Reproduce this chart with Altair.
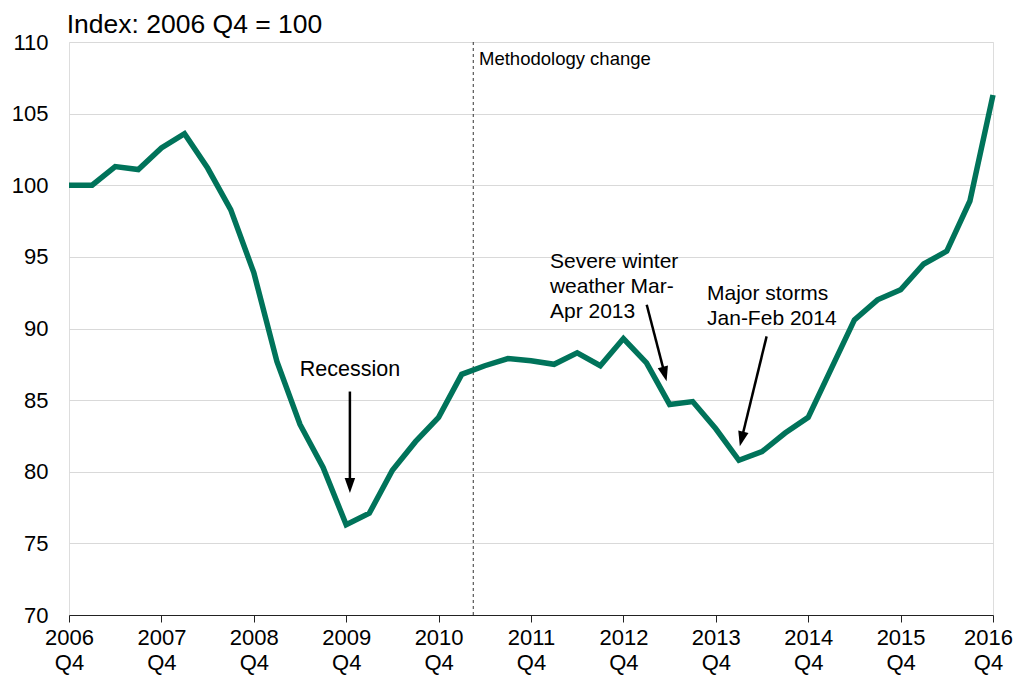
import altair as alt
import pandas as pd
import numpy as np

FONT = "Liberation Sans"

# ---- data ----
quarters = list(range(41))  # 0 = 2006 Q4 ... 40 = 2016 Q4
index_values = [100.0, 100.0, 101.3, 101.1, 102.6, 103.6, 101.2, 98.3, 93.9, 87.7,
                83.3, 80.3, 76.3, 77.1, 80.1, 82.1, 83.8, 86.8, 87.4, 87.9,
                87.75, 87.5, 88.3, 87.4, 89.3, 87.6, 84.7, 84.9, 83.0, 80.8,
                81.4, 82.7, 83.8, 87.2, 90.6, 92.0, 92.7, 94.5, 95.4, 98.9, 106.3]
x_tick_values = list(range(0, 41, 4))
y_tick_values = [70, 75, 80, 85, 90, 95, 100, 105, 110]
method_change_q = 17.5

title_text = "Index: 2006 Q4 = 100"
method_text = "Methodology change"

left_notes = ["Severe winter\nweather Mar-\nApr 2013", "Major storms\nJan-Feb 2014"]
left_notes_x = [20.82, 27.62]
left_notes_y = [94.22, 92.02]

recession_text = ["Recession"]
recession_x = [12.16]
recession_y = [86.68]

arrow_tail_x = [12.16, 25.01, 30.20]
arrow_tail_y = [85.60, 91.66, 89.45]
arrow_tip_x = [12.16, 25.87, 29.04]
arrow_tip_y = [78.52, 86.31, 81.78]

W, H = 924, 573
X_DOM = [0, 40]
Y_DOM = [70, 110]
px_x = W / (X_DOM[1] - X_DOM[0])
px_y = H / (Y_DOM[1] - Y_DOM[0])

xs = alt.Scale(domain=X_DOM, nice=False, zero=False)
ys = alt.Scale(domain=Y_DOM, nice=False, zero=False)

line_df = pd.DataFrame({"q": quarters, "v": index_values})

line = alt.Chart(line_df).mark_line(color="#00735A", strokeWidth=5.5, strokeJoin="miter").encode(
    x=alt.X("q:Q", scale=xs, title=None,
            axis=alt.Axis(values=x_tick_values,
                          labelExpr="[toString(2006 + datum.value / 4), 'Q4']",
                          grid=False, domainColor="#222222", tickColor="#222222",
                          tickSize=7, labelFontSize=22, labelFont=FONT, labelColor="#000000",
                          labelPadding=5, labelLineHeight=25, labelFlush=False,
                          labelOverlap=False, labelBaseline="top",
                          labelOffset={"condition": {"test": "datum.value == 40", "value": -5},
                                       "value": 0})),
    y=alt.Y("v:Q", scale=ys, title=None,
            axis=alt.Axis(values=y_tick_values, grid=True, gridColor="#d9d9d9",
                          gridWidth=1, domain=False, ticks=False, labelFontSize=22,
                          labelFont=FONT, labelColor="#000000", labelPadding=21)),
)

rule_df = pd.DataFrame({"x": [method_change_q], "y": [Y_DOM[0]], "y2": [Y_DOM[1]]})
vline = alt.Chart(rule_df).mark_rule(color="#333333", strokeWidth=1, strokeDash=[3, 3]).encode(
    x=alt.X("x:Q", scale=xs), y=alt.Y("y:Q", scale=ys), y2="y2:Q")

title_df = pd.DataFrame({"x": [-0.1], "y": [110.66], "t": [title_text]})
title = alt.Chart(title_df).mark_text(align="left", baseline="alphabetic", fontSize=26.5,
                                      font=FONT, color="#000000").encode(
    x=alt.X("x:Q", scale=xs), y=alt.Y("y:Q", scale=ys), text="t:N")

meth_df = pd.DataFrame({"x": [17.75], "y": [108.39], "t": [method_text]})
meth = alt.Chart(meth_df).mark_text(align="left", baseline="alphabetic", fontSize=18.5,
                                    font=FONT, color="#000000").encode(
    x=alt.X("x:Q", scale=xs), y=alt.Y("y:Q", scale=ys), text="t:N")

ln_df = pd.DataFrame({"x": left_notes_x, "y": left_notes_y, "t": left_notes})
notes_left = alt.Chart(ln_df).mark_text(align="left", baseline="alphabetic", fontSize=21,
                                        font=FONT, color="#000000", lineBreak="\n",
                                        lineHeight=25).encode(
    x=alt.X("x:Q", scale=xs), y=alt.Y("y:Q", scale=ys), text="t:N")

rc_df = pd.DataFrame({"x": recession_x, "y": recession_y, "t": recession_text})
notes_rec = alt.Chart(rc_df).mark_text(align="center", baseline="alphabetic", fontSize=21.5,
                                       font=FONT, color="#000000").encode(
    x=alt.X("x:Q", scale=xs), y=alt.Y("y:Q", scale=ys), text="t:N")

# arrows
tx, ty = np.array(arrow_tail_x), np.array(arrow_tail_y)
hx, hy = np.array(arrow_tip_x), np.array(arrow_tip_y)
dxp = (hx - tx) * px_x
dyp = -(hy - ty) * px_y
lenp = np.sqrt(dxp ** 2 + dyp ** 2)
shorten = 8.0
frac = (lenp - shorten) / lenp
ang = np.degrees(np.arctan2(-dxp, dyp)) % 360

arrow_df = pd.DataFrame({"x": tx, "y": ty,
                         "x2": tx + (hx - tx) * frac, "y2": ty + (hy - ty) * frac,
                         "hx": hx, "hy": hy, "ang": ang})
shafts = alt.Chart(arrow_df).mark_rule(color="#000000", strokeWidth=2.5).encode(
    x=alt.X("x:Q", scale=xs), y=alt.Y("y:Q", scale=ys), x2="x2:Q", y2="y2:Q")
heads = alt.Chart(arrow_df).mark_point(shape="M0,0L-0.7,-2L0.7,-2Z", filled=True,
                                       color="#000000", opacity=1, size=225,
                                       strokeWidth=0).encode(
    x=alt.X("hx:Q", scale=xs), y=alt.Y("hy:Q", scale=ys),
    angle=alt.Angle("ang:Q", scale=None))

chart = alt.layer(vline, line, shafts, heads, title, meth, notes_left, notes_rec).properties(
    width=W, height=H,
    autosize=alt.AutoSizeParams(type="none"),
    padding={"left": 61, "top": 34, "right": 20, "bottom": 61},
).configure_view(stroke=None).configure(background="white")

chart.save("out.html", embed_options={"renderer": "svg", "actions": False})
